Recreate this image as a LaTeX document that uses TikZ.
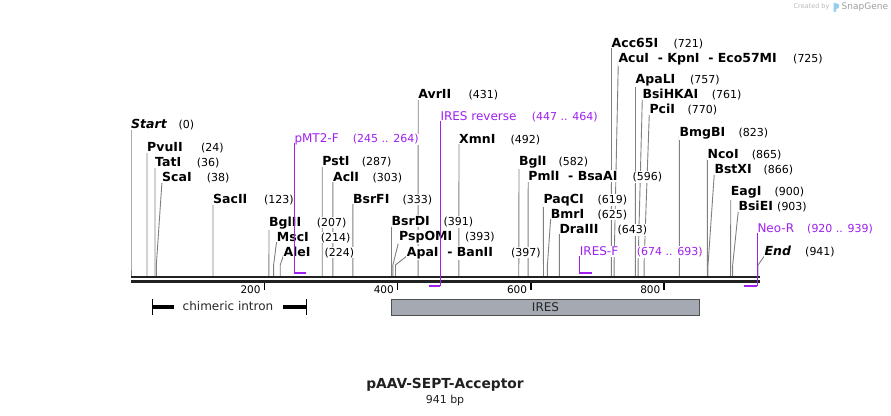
\documentclass[tikz,border=0pt]{standalone}
\usepackage{fontspec}
\setmainfont{DejaVu Sans}
\usepackage{tikz}
\usetikzlibrary{positioning,calc}
\pgfdeclarelayer{back}
\pgfsetlayers{back,main}
\definecolor{primer}{RGB}{160,32,240}
\definecolor{featfill}{RGB}{165,170,178}
\definecolor{featline}{RGB}{80,80,80}
\definecolor{siteline}{RGB}{128,128,128}
\definecolor{mark}{RGB}{185,185,185}
\definecolor{snap}{RGB}{150,205,240}

\begin{document}
\begin{tikzpicture}[x=1pt,y=-1pt,
    enzname/.style={anchor=base west,inner sep=1pt,fill=white,
      font=\fontsize{12.5}{15}\selectfont\bfseries},
    enznum/.style={anchor=base west,inner sep=1pt,fill=white,
      font=\fontsize{11}{13}\selectfont},
    primname/.style={enzname,text=primer,font=\fontsize{12}{14}\selectfont},
    primnum/.style={enznum,text=primer},
    cutline/.style={siteline,line width=0.9pt},
    primline/.style={primer,line width=1.2pt},
    primbar/.style={primer,line width=2pt},
    bbline/.style={line width=2.4pt,black!87},
    tickline/.style={line width=1.5pt,black},
    ticknum/.style={anchor=east,inner sep=0pt,font=\fontsize{10.5}{12}\selectfont},
    featbox/.style={draw=featline,fill=featfill,line width=0.8pt,inner sep=0pt,
      font=\fontsize{12}{14}\selectfont,text=black!85}]
  \useasboundingbox (0,0) rectangle (891,415);

  % watermark
  \node[anchor=west,inner sep=0pt,text=mark,font=\fontsize{6.5}{8}\selectfont] (made) at (793.5,6.5) {Created by};
  \fill[snap,rounded corners=0.8pt] (833.5,12) -- (833.5,2.5) -- (839,4.2) -- (839,8) -- (836,9) -- (836,12) -- cycle;
  \node[anchor=west,inner sep=0pt,text=mark!85!black,font=\fontsize{9}{11}\selectfont] (snapg) at (841.5,6.8) {SnapGene};

  % backbone and ruler
  \draw[bbline] (131,277.2) -- (759.5,277.2);
  \draw[bbline] (131,281.3) -- (759.5,281.3);
  \foreach \t in {200,400,600,800}{
    \draw[tickline] ({131+0.6663*\t},282.5) -- ({131+0.6663*\t},289.5);
    \node[ticknum] (t\t) at ({131+0.6663*\t-3.5},289.5) {\t};
  }

  % enzyme sites
  \foreach \id/\bp/\lx/\cy/\nx/\txt in {
      start/0/131/124/178.3/{\itshape Start},
      pvu/24/147/147/201/PvuII,
      tat/36/155/162/196.7/TatI,
      sca/38/162/177/206.7/ScaI,
      sac/123/213/199/264/SacII,
      bgltwo/207/269/221.5/316.7/BglII,
      msc/214/276.7/236.5/320.7/MscI,
      ale/224/283.3/251.5/324.3/AleI,
      pst/287/322.2/161/361.7/PstI,
      acl/303/332.9/176.5/372.3/AclI,
      bsrf/333/352.9/198.5/402.3/BsrFI,
      bsrd/391/391.5/221/443.3/BsrDI,
      psp/393/399/236/465/PspOMI,
      apa/397/406.7/251.5/511/{ApaI~~- BanII},
      avr/431/418.2/94/468.3/AvrII,
      xmn/492/459/138.7/510.3/XmnI,
      bglone/582/519/161/558.3/BglI,
      pml/596/528.2/176.3/632.3/{PmlI~~- BsaAI},
      paq/619/543.4/199/597.3/PaqCI,
      bmr/625/550.7/213.5/597.3/BmrI,
      dra/643/559.4/228.7/617.5/DraIII,
      acc/721/611.5/42.5/673.3/Acc65I,
      acu/725/618.3/57.5/793/{AcuI~~- KpnI~~- Eco57MI},
      apal/757/635.5/79/690/ApaLI,
      bsih/761/642.3/94/711.7/BsiHKAI,
      pci/770/649.3/109/687.3/PciI,
      bmg/823/679.4/131.7/738.3/BmgBI,
      nco/865/707.4/154/751.7/NcoI,
      bstx/866/714.3/169/763.3/BstXI,
      eag/900/730.7/191.3/774.3/EagI,
      bsie/903/738.3/206.3/777/BsiEI,
      end/941/764.5/251.3/805/{\itshape End}}{
    \node[enzname] (n\id) at ({\lx-1},{\cy+4.5}) {\txt};
    \node[enznum] (m\id) at ({\nx-1},{\cy+4.5}) {(\bp)};
    \coordinate (s\id) at ({131+0.6663*\bp},276);
    \begin{pgfonlayer}{back}
      \draw[cutline] ([xshift=1pt]n\id.base west) -- ({131+0.6663*\bp},265) -- (s\id);
    \end{pgfonlayer}
  }

  % primers
  \foreach \id/\lx/\cy/\nx/\txt/\rng/\xb/\yb in {
      pmt/294.3/138.5/352.7/pMT2-F/245 .. 264/306/272.7,
      iresr/440.3/116.3/531.7/IRES reverse/447 .. 464/428.8/285.8,
      iresf/579.7/251.3/636.7/IRES-F/674 .. 693/592.2/272.7,
      neo/757.3/228.3/807/Neo-R/920 .. 939/744/285.8}{
    \node[primname] (p\id) at ({\lx-1},{\cy+4.4}) {\txt};
    \node[primnum] (q\id) at ({\nx-1},{\cy+4.4}) {(\rng)};
    \coordinate (a\id) at (\lx,\yb);
    \coordinate (b\id) at (\xb,\yb);
    \draw[primline] ([xshift=1pt]p\id.base west) -- (a\id);
    \draw[primbar] ([xshift=-0.6pt]a\id) -- (b\id);
  }

  % features
  \node[font=\fontsize{12}{14}\selectfont,text=black!85] (intron) at (228,306.5) {chimeric intron};
  \coordinate (inl) at (152.3,306.5);
  \coordinate (inr) at (306,306.5);
  \draw[line width=1pt] (152.3,299.3) -- (152.3,314.7);
  \draw[line width=1pt] (306,299.3) -- (306,314.7);
  \draw[line width=4pt] (inl) -- (173.5,306.5);
  \draw[line width=4pt] (283,306.5) -- (inr);
  \node[featbox,minimum width=307.6pt,minimum height=15.6pt] (ires) at (545.5,307.2) {IRES};

  % title
  \node[font=\fontsize{13.8}{16}\selectfont\bfseries,text=black!87] (title) at (445,384.5) {pAAV-SEPT-Acceptor};
  \node[font=\fontsize{11}{13}\selectfont,text=black!87] (len) at (445,400.3) {941 bp};
\end{tikzpicture}
\end{document}
